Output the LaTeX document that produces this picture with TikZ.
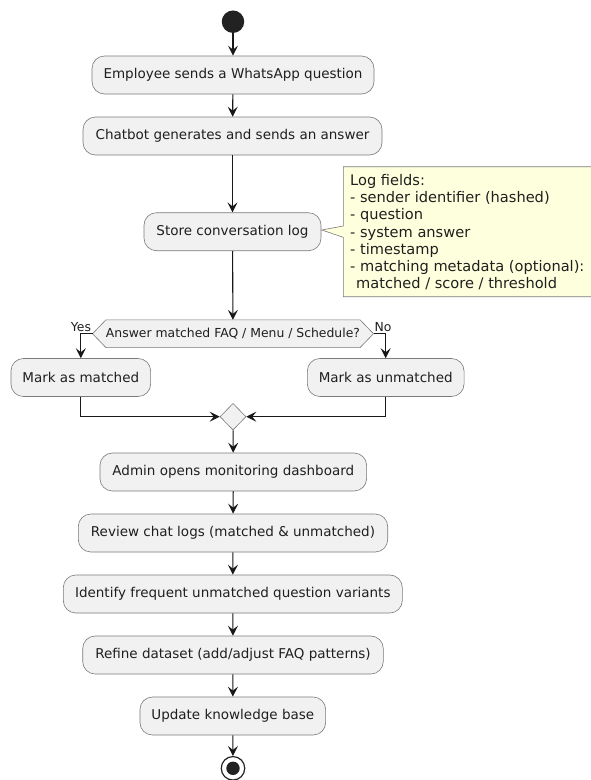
\documentclass[tikz,border=0pt]{standalone}
\usepackage{fontspec}
\setmainfont{DejaVu Sans}
\usetikzlibrary{arrows.meta,backgrounds,calc,shapes.geometric}
\definecolor{boxfill}{HTML}{F1F1F1}
\definecolor{linec}{HTML}{181818}
\definecolor{borderc}{HTML}{7A7A7A}
\definecolor{notefill}{HTML}{FEFFDD}
\definecolor{startc}{HTML}{222222}
\begin{document}
\begin{tikzpicture}[x=1pt,y=-1pt,
  act/.style={draw=borderc, line width=0.6pt, fill=boxfill, rounded corners=12.5pt,
    minimum height=38pt, inner sep=0pt, font=\fontsize{13.5}{16}\selectfont, text=black!88},
  flow/.style={draw=linec, line width=1.1pt, -{Stealth[length=10pt,width=10pt,inset=4pt]}},
  lbl/.style={font=\fontsize{12.4}{14}\selectfont, inner sep=0pt, text=black!88},
  shapeline/.style={draw=borderc, line width=0.6pt},
]
\useasboundingbox (0,0) rectangle (590,780);
\begin{scope}[on background layer]
  \fill[white] (0,0) rectangle (590,780);
\end{scope}

% start
\node[circle, fill=startc, minimum size=22.5pt, inner sep=0pt] (start) at (233,21.7) {};

% activities
\node[act, minimum width=282pt]   (a1) at (233,75)    {Employee sends a WhatsApp question};
\node[act, minimum width=299pt]   (a2) at (232.5,136) {Chatbot generates and sends an answer};
\node[act, minimum width=177pt]   (a3) at (232.5,231.7) {Store conversation log};

% note
\draw[shapeline, fill=notefill] (343.3,166.7) -- (595,166.7) -- (595,296.7) -- (343.3,296.7)
  -- (343.3,237.3) -- (321.7,230) -- (343.3,226) -- cycle;
\node[anchor=north west, align=left, inner sep=0pt, text=black!88,
      font=\fontsize{14.6}{17.13}\selectfont] (note) at (350,174.4)
  {Log fields:\\- sender identifier (hashed)\\- question\\- system answer\\- timestamp\\- matching metadata (optional):\\\hspace*{6pt}matched / score / threshold};

% decision
\node[minimum width=280.6pt, minimum height=27.3pt, inner sep=0pt,
      font=\fontsize{12.4}{14}\selectfont, text=black!88] (hex) at (233,333.7)
  {Answer matched FAQ / Menu / Schedule?};
\begin{scope}[on background layer]
  \draw[shapeline, fill=boxfill] (hex.west) -- ([xshift=13.4pt]hex.north west)
    -- ([xshift=-13.4pt]hex.north east) -- (hex.east)
    -- ([xshift=-13.4pt]hex.south east) -- ([xshift=13.4pt]hex.south west) -- cycle;
\end{scope}
\node[lbl] (yes) at (81,326.7) {Yes};
\node[lbl] (no)  at (383,326.7) {No};

\node[act, minimum width=139.7pt] (m1) at (80.8,377.5)  {Mark as matched};
\node[act, minimum width=156.7pt] (m2) at (385.7,377.5) {Mark as unmatched};

\node[diamond, shapeline, fill=boxfill, minimum width=26pt, minimum height=26.7pt,
      inner sep=0pt] (merge) at (233,416.7) {};

\node[act, minimum width=266.7pt] (b1) at (233.3,472) {Admin opens monitoring dashboard};
\node[act, minimum width=309.4pt] (b2) at (233,533)   {Review chat logs (matched \& unmatched)};
\node[act, minimum width=339pt]   (b3) at (232.8,594) {Identify frequent unmatched question variants};
\node[act, minimum width=300.6pt] (b4) at (233,655)   {Refine dataset (add/adjust FAQ patterns)};
\node[act, minimum width=185.7pt] (b5) at (232.8,716) {Update knowledge base};

% stop
\node[circle, draw=startc, line width=1.2pt, fill=white, minimum size=23.5pt,
      inner sep=0pt] (stop) at (233,768.3) {};
\fill[startc] (stop.center) circle (6.7pt);

% connectors
\draw[flow] (start) -- (a1);
\draw[flow] (a1) -- (a2);
\draw[flow] (a2) -- (a3);
\draw[flow] (a3) -- (hex);
\draw[flow] (hex.west) -| (m1.north);
\draw[flow] (hex.east) -| (m2.north);
\draw[flow] (m1.south) |- (merge.west);
\draw[flow] (m2.south) |- (merge.east);
\draw[flow] (merge) -- (b1);
\draw[flow] (b1) -- (b2);
\draw[flow] (b2) -- (b3);
\draw[flow] (b3) -- (b4);
\draw[flow] (b4) -- (b5);
\draw[flow] (b5) -- (stop);
\end{tikzpicture}
\end{document}
